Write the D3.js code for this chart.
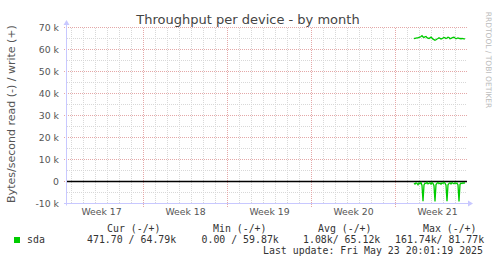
<!DOCTYPE html>
<html>
<head>
<meta charset="utf-8">
<script src="https://cdn.jsdelivr.net/npm/d3@7"></script>
<style>
  body { margin: 0; background: #fff; }
  svg { display: block; }
  text { font-family: "DejaVu Sans", sans-serif; }
  .mono { font-family: "DejaVu Sans Mono", monospace; font-size: 9.9px; fill: #333; white-space: pre; }
</style>
</head>
<body>
<div id="chart"></div>
<script>
// data: 2h samples of sda, from 2025-05-19 14:00 to 2025-05-23 20:00
const sampleStart = Date.UTC(2025, 4, 19, 14, 0, 0);
const sampleStep = 2 * 3600 * 1000;

// write bytes/s (k)
const writeValues = [
  65.0, 65.1, 65.2, 65.3, 65.3, 65.5, 65.6, 65.9, 66.3, 65.7,
  65.5, 65.8, 65.9, 65.4, 65.2, 65.0, 65.3, 65.6, 65.2, 64.7,
  64.5, 64.2, 64.4, 64.8, 65.0, 65.3, 65.1, 64.8, 64.9, 65.2,
  65.5, 65.3, 65.0, 65.2, 65.6, 65.4, 64.9, 65.0, 65.3, 65.5,
  65.6, 65.2, 64.9, 65.1, 65.3, 65.1, 65.0, 64.9, 65.0, 64.9,
  64.8, 64.79
];
// read bytes/s (k), drawn below zero
const readValues = [
  0.8, 1.2, 0.6, 0.9, 1.5, 0.7, 1.0, 0.5, 1.8, 9.0,
  1.6, 0.7, 0.9, 0.4, 1.1, 0.8, 0.6, 1.2, 0.5, 0.9,
  1.9, 9.1, 1.4, 0.8, 0.5, 1.0, 0.7, 1.2, 0.6, 0.9,
  0.4, 0.8, 1.7, 9.0, 1.5, 0.9, 0.6, 1.1, 0.5, 0.8,
  1.0, 0.6, 0.9, 0.7, 1.6, 9.1, 1.3, 0.7, 0.9, 0.6,
  0.8, 0.47
];

const yTicks = [-10000, 0, 10000, 20000, 30000, 40000, 50000, 60000, 70000];
const yTickLabels = ["-10 k", "0", "10 k", "20 k", "30 k", "40 k", "50 k", "60 k", "70 k"];
const weekLabels = ["Week 17", "Week 18", "Week 19", "Week 20", "Week 21"];

const legendHeaders = ["Cur (-/+)", "Min (-/+)", "Avg (-/+)", "Max (-/+)"];
const legendValues = ["471.70 / 64.79k", "0.00 / 59.87k", "1.08k/ 65.12k", "161.74k/ 81.77k"];
const lastUpdate = "Last update: Fri May 23 20:01:19 2025";

const width = 497, height = 264;
const plotLeft = 67, plotRight = 467, plotTop = 27.5, plotBottom = 203.5;

const svg = d3.select("#chart").append("svg")
    .attr("width", width)
    .attr("height", height);

const end = new Date(Date.UTC(2025, 4, 24, 0, 0, 0));
const start = new Date(end.getTime() - 400 * 7200 * 1000);

const x = d3.scaleUtc().domain([start, end]).range([plotLeft, plotRight]);
const y = d3.scaleLinear().domain([-10000, 70000]).range([plotBottom, plotTop]);

// grid
const grid = svg.append("g").attr("shape-rendering", "crispEdges");
const days = d3.utcDay.range(d3.utcDay.ceil(start), end);
const sundays = d3.utcSunday.range(start, end);
const isSunday = d => d.getUTCDay() === 0;

grid.selectAll(".vmin")
    .data(days.filter(d => !isSunday(d)))
    .join("line")
    .attr("x1", d => Math.round(x(d)) + 0.5)
    .attr("x2", d => Math.round(x(d)) + 0.5)
    .attr("y1", plotTop).attr("y2", plotBottom)
    .attr("stroke", "#d8d8d8")
    .attr("stroke-dasharray", "1,1");

const minorY = d3.range(-5000, 70000, 10000);
grid.selectAll(".hmin")
    .data(minorY)
    .join("line")
    .attr("x1", plotLeft).attr("x2", plotRight)
    .attr("y1", d => y(d)).attr("y2", d => y(d))
    .attr("stroke", "#d8d8d8")
    .attr("stroke-dasharray", "1,1");

grid.selectAll(".vmaj")
    .data(sundays)
    .join("line")
    .attr("x1", d => Math.round(x(d)) + 0.5)
    .attr("x2", d => Math.round(x(d)) + 0.5)
    .attr("y1", plotTop).attr("y2", plotBottom + 3)
    .attr("stroke", "#e4a8a8")
    .attr("stroke-dasharray", "1,1");

grid.selectAll(".hmaj")
    .data(yTicks)
    .join("line")
    .attr("x1", plotLeft - 3).attr("x2", plotRight)
    .attr("y1", d => y(d)).attr("y2", d => y(d))
    .attr("stroke", "#e4a8a8")
    .attr("stroke-dasharray", "1,1");

// zero line
svg.append("line")
    .attr("x1", plotLeft).attr("x2", plotRight)
    .attr("y1", y(0)).attr("y2", y(0))
    .attr("stroke", "#000")
    .attr("stroke-width", 1.4);

// series
const timeAt = i => new Date(sampleStart + i * sampleStep);
const line = d3.line()
    .x((d, i) => x(timeAt(i)))
    .y(d => y(d));

svg.append("path")
    .datum(writeValues.map(v => v * 1000))
    .attr("d", line)
    .attr("fill", "none")
    .attr("stroke", "#00cc00")
    .attr("stroke-width", 1.3);

svg.append("path")
    .datum(readValues.map(v => -v * 1000))
    .attr("d", line)
    .attr("fill", "none")
    .attr("stroke", "#00cc00")
    .attr("stroke-width", 1.3);

// axes lines + arrows
const axisColor = "#c8c8ff";
svg.append("line")
    .attr("x1", plotLeft - 0.5).attr("x2", plotLeft - 0.5)
    .attr("y1", plotBottom + 2).attr("y2", 24)
    .attr("stroke", axisColor);
svg.append("path")
    .attr("d", `M${plotLeft - 3.5},25 L${plotLeft - 0.5},20 L${plotLeft + 2.5},25 Z`)
    .attr("fill", axisColor);
svg.append("line")
    .attr("x1", plotLeft - 3).attr("x2", plotRight + 2)
    .attr("y1", plotBottom).attr("y2", plotBottom)
    .attr("stroke", axisColor);
svg.append("path")
    .attr("d", `M${plotRight + 1},${plotBottom - 3} L${plotRight + 6},${plotBottom} L${plotRight + 1},${plotBottom + 3} Z`)
    .attr("fill", axisColor);

// y tick labels
const yAxis = svg.append("g")
    .attr("transform", `translate(${plotLeft},0)`)
    .call(d3.axisLeft(y)
        .tickValues(yTicks)
        .tickFormat((d, i) => yTickLabels[i])
        .tickSize(0)
        .tickPadding(8));
yAxis.select(".domain").remove();
yAxis.selectAll("text")
    .attr("font-family", "DejaVu Sans")
    .attr("font-size", "9.3px")
    .attr("fill", "#555");

// week labels, centred in each week
const weekMids = [...sundays.map(d => d3.utcHour.offset(d, -84)), d3.utcHour.offset(sundays[sundays.length - 1], 84)];
const xAxis = svg.append("g")
    .attr("transform", `translate(0,${plotBottom})`)
    .call(d3.axisBottom(x)
        .tickValues(weekMids)
        .tickFormat((d, i) => weekLabels[i])
        .tickSize(0)
        .tickPadding(5));
xAxis.select(".domain").remove();
xAxis.selectAll("text")
    .attr("font-family", "DejaVu Sans")
    .attr("font-size", "9.3px")
    .attr("fill", "#555");

// title
svg.append("text")
    .attr("x", 248)
    .attr("y", 24)
    .attr("text-anchor", "middle")
    .attr("font-size", "13px")
    .attr("fill", "#444")
    .text("Throughput per device - by month");

// y axis label
svg.append("text")
    .attr("transform", "translate(15,114) rotate(-90)")
    .attr("text-anchor", "middle")
    .attr("font-size", "11px")
    .attr("fill", "#555")
    .text("Bytes/second read (-) / write (+)");

// watermark
svg.append("text")
    .attr("transform", "translate(486,60) rotate(90)")
    .attr("text-anchor", "middle")
    .attr("font-size", "7.5px")
    .attr("fill", "#bbb")
    .text("RRDTOOL / TOBI OETIKER");

// legend
const headerX = [107, 213, 318, 423];
const valueX = [87, 201.5, 303, 395];
svg.selectAll(".lh")
    .data(legendHeaders)
    .join("text")
    .attr("class", "mono")
    .attr("x", (d, i) => headerX[i])
    .attr("y", 232)
    .text(d => d);
svg.selectAll(".lv")
    .data(legendValues)
    .join("text")
    .attr("class", "mono")
    .attr("x", (d, i) => valueX[i])
    .attr("y", 243)
    .text(d => d);
svg.append("rect")
    .attr("x", 14).attr("y", 237)
    .attr("width", 6).attr("height", 6)
    .attr("fill", "#00cc00");
svg.append("text")
    .attr("class", "mono")
    .attr("x", 27).attr("y", 243)
    .text("sda");
svg.append("text")
    .attr("class", "mono")
    .attr("x", 483).attr("y", 254)
    .attr("text-anchor", "end")
    .text(lastUpdate);
</script>
</body>
</html>
